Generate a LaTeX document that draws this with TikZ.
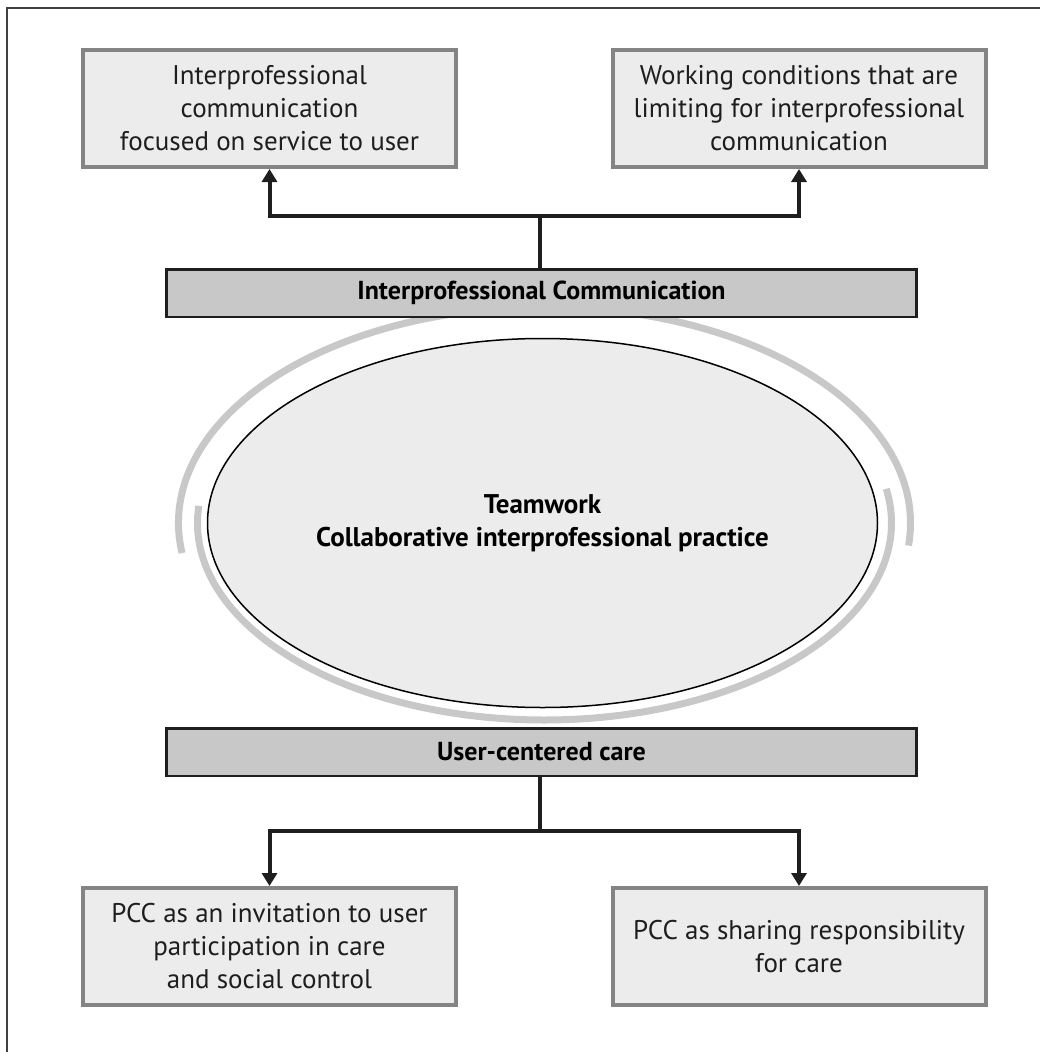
\documentclass[tikz,border=0pt]{standalone}
\usepackage{fontspec}
\setmainfont{PT Sans}
\definecolor{boxfill}{RGB}{236, 236, 236}
\definecolor{boxline}{RGB}{132, 132, 132}
\definecolor{barfill}{RGB}{200, 200, 200}
\definecolor{ringgray}{RGB}{200, 200, 200}
\definecolor{textdark}{RGB}{30, 30, 30}
\usetikzlibrary{shapes.geometric, arrows.meta, positioning}

\begin{document}
\begin{tikzpicture}[x=1pt, y=-1pt,
    itembox/.style={rectangle, draw=boxline, line width=4pt, fill=boxfill,
      minimum width=373pt, minimum height=117pt, inner sep=0pt, align=center,
      text=textdark, font=\fontsize{27}{33}\selectfont},
    themebar/.style={rectangle, draw=textdark, line width=2.5pt, fill=barfill,
      minimum width=750pt, minimum height=47.5pt, inner sep=0pt,
      text=black, font=\fontsize{26}{33}\selectfont\bfseries},
    ring/.style={draw=ringgray, line width=7pt},
    link/.style={draw=textdark, line width=4pt},
    linkarrow/.style={link, -{Triangle[width=15pt, length=13pt]}}]
  \useasboundingbox (0,0) rectangle (1040,1052);
  \draw[black!75, line width=1.5pt] (1040,8) -| (7,1052);

  % rings round the centre
  \coordinate (ringc) at (544.5,523);
  \draw[ring] (ringc) ++(172:366 and 216)
    arc[start angle=172, end angle=366, x radius=366, y radius=216];
  \draw[ring] (ringc) ++(185:347 and 197)
    arc[start angle=185, end angle=-10, x radius=347, y radius=197];

  \node[ellipse, draw=black, line width=1.5pt, fill=boxfill, minimum width=670pt,
        minimum height=369pt, inner sep=0pt, align=center,
        font=\fontsize{27}{33}\selectfont\bfseries] (team) at (542.5,523)
    {Teamwork\\Collaborative interprofessional practice};

  \node[themebar] (ic) at (541.5,293) {Interprofessional Communication};
  \node[themebar] (ucc) at (541.5,752) {User-centered care};

  \node[itembox] (focus) at (269.5,108.5)
    {Interprofessional\\communication\\focused on service to user};
  \node[itembox] (limits) at (799,108.5)
    {Working conditions that are\\limiting for interprofessional\\communication};
  \node[itembox] (invite) at (269.5,946.5)
    {PCC as an invitation to user\\participation in care\\and social control};
  \node[itembox] (share) at (799,946.5)
    {PCC as sharing responsibility\\for care};

  \coordinate (upjoin) at (540,216);
  \coordinate (downjoin) at (540,831);
  \draw[link] (ic.north -| upjoin) -- (upjoin);
  \draw[linkarrow] (upjoin) -| (focus.south);
  \draw[linkarrow] (upjoin) -| (limits.south);
  \draw[link] (ucc.south -| downjoin) -- (downjoin);
  \draw[linkarrow] (downjoin) -| (invite.north);
  \draw[linkarrow] (downjoin) -| (share.north);
\end{tikzpicture}
\end{document}
